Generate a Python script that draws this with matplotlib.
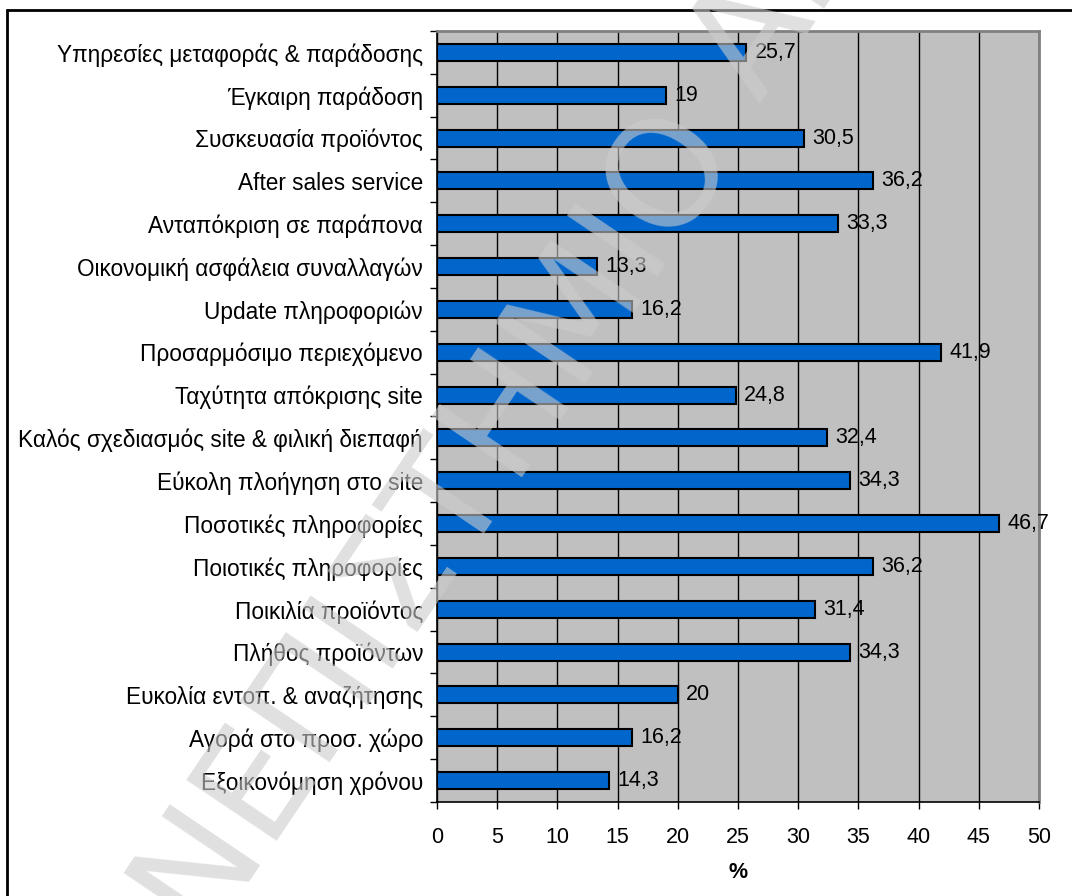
import math
import matplotlib
matplotlib.use("Agg")
import matplotlib.pyplot as plt
from matplotlib.patches import Rectangle

# Survey factors (top to bottom) and share of respondents, in %
categories = [
    "Υπηρεσίες μεταφοράς & παράδοσης",
    "Έγκαιρη παράδοση",
    "Συσκευασία προϊόντος",
    "After sales service",
    "Ανταπόκριση σε παράπονα",
    "Οικονομική ασφάλεια συναλλαγών",
    "Update πληροφοριών",
    "Προσαρμόσιμο περιεχόμενο",
    "Ταχύτητα απόκρισης site",
    "Καλός σχεδιασμός site & φιλική διεπαφή",
    "Εύκολη πλοήγηση στο site",
    "Ποσοτικές πληροφορίες",
    "Ποιοτικές πληροφορίες",
    "Ποικιλία προϊόντος",
    "Πλήθος προϊόντων",
    "Ευκολία εντοπ. & αναζήτησης",
    "Αγορά στο προσ. χώρο",
    "Εξοικονόμηση χρόνου",
]
values = [25.7, 19, 30.5, 36.2, 33.3, 13.3, 16.2, 41.9, 24.8,
          32.4, 34.3, 46.7, 36.2, 31.4, 34.3, 20, 16.2, 14.3]
x_ticks = [0, 5, 10, 15, 20, 25, 30, 35, 40, 45, 50]
x_label = "%"
watermark_words = ["ΠΑΝΕΠΙΣΤΗΜΙΟ", "ΑΙΓΑΙΟΥ"]

plt.rcParams["font.family"] = ["Liberation Sans", "DejaVu Sans"]

W, H = 1072, 896
fig = plt.figure(figsize=(W / 100, H / 100), dpi=100)
fig.patch.set_facecolor("white")

# plot area in pixels
left, right, top, bottom = 437, 1039, 31, 802
ax = fig.add_axes([left / W, 1 - bottom / H, (right - left) / W, (bottom - top) / H])
ax.set_facecolor("#C0C0C0")

ypos = list(range(len(categories)))
ax.barh(ypos, values, height=0.4, color="#0066CC", edgecolor="black",
        linewidth=1.5, zorder=3)


def fmt(v):
    return f"{v:g}".replace(".", ",")


for y, v in zip(ypos, values):
    ax.annotate(fmt(v), (v, y), xytext=(6, 0), textcoords="offset points",
                ha="left", va="center", fontsize=15.5, color="black", zorder=4)

ax.set_xlim(0, 50)
ax.set_ylim(len(categories) - 0.5, -0.5)
ax.set_xticks(x_ticks)
ax.set_xticklabels([str(t) for t in x_ticks], fontsize=15.5)
ax.set_yticks(ypos)
ax.set_yticklabels(categories, fontsize=16.3)
ax.set_yticks([i + 0.5 for i in range(-1, len(categories))], minor=True)
ax.tick_params(axis="y", which="major", length=0, pad=10)
ax.tick_params(axis="y", which="minor", length=5, width=1, direction="out", color="black")
ax.tick_params(axis="x", length=5, width=1, direction="out", pad=13, color="black")

ax.xaxis.grid(True, color="black", linewidth=1, zorder=1)
ax.set_axisbelow(True)

for side in ("left", "bottom"):
    ax.spines[side].set_color("black")
    ax.spines[side].set_linewidth(1.2)
for side in ("top", "right"):
    ax.spines[side].set_color("#808080")
    ax.spines[side].set_linewidth(2)

ax.set_xlabel(x_label, fontsize=15.5, fontweight="bold", labelpad=10)

# outer chart border
fig.patches.append(Rectangle((7 / W, -0.05), 1.2, 1 - 10 / H + 0.05,
                             transform=fig.transFigure, fill=False,
                             edgecolor="black", linewidth=2, zorder=0))

# diagonal watermark over the chart
ang = 56
dx, dy = math.cos(math.radians(ang)), math.sin(math.radians(ang))
end1 = (700, 118)   # pixel position (from top-left) of the end of the first word
gap = 45
wm_kw = dict(rotation=ang, rotation_mode="anchor", va="center", fontsize=108,
             fontweight="normal", color="#CCCCCC", alpha=0.6, zorder=10,
             family="DejaVu Sans")
fig.text(end1[0] / W, 1 - end1[1] / H, watermark_words[0], ha="right", **wm_kw)
start2 = (end1[0] + gap * dx, end1[1] - gap * dy)
fig.text(start2[0] / W, 1 - start2[1] / H, watermark_words[1], ha="left", **wm_kw)

fig.savefig("out.png", dpi=100)
